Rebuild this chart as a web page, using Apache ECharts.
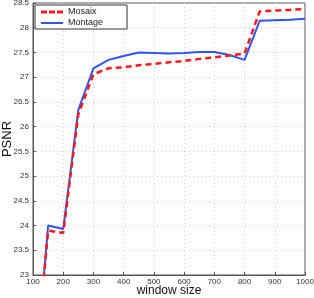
<!DOCTYPE html>
<html><head><meta charset="utf-8">
<script src="https://cdn.jsdelivr.net/npm/echarts@6/dist/echarts.min.js"></script>
<style>html,body{margin:0;padding:0;background:#fff}#c{width:314px;height:298px}</style>
</head><body><div id="c"></div>
<script>
const windowSizes = [100,150,200,250,300,350,400,450,500,550,600,650,700,750,800,850,900,950,1000];
const mosaix  = [20.5,23.9,23.85,26.25,27.06,27.18,27.2,27.24,27.27,27.3,27.33,27.37,27.4,27.44,27.48,28.33,28.35,28.36,28.38];
const montage = [20.4,24.0,23.93,26.34,27.18,27.35,27.43,27.5,27.49,27.48,27.49,27.51,27.51,27.45,27.35,28.14,28.15,28.16,28.18];
const yTickLabels = ['23','23.5','24','24.5','25','25.5','26','26.5','27','27.5','28','28.5'];

const font = 'Liberation Sans';
const chart = echarts.init(document.getElementById('c'));
const pairs = a => windowSizes.map((x,i)=>[x,a[i]]);
const axisCommon = {
  axisLine:{show:true,lineStyle:{color:'#555',width:1}},
  axisTick:{show:true,inside:true,length:3,lineStyle:{color:'#555'}},
};
chart.setOption({
  animation:false,
  grid:{left:33,right:9,top:3,bottom:23,containLabel:false,outerBoundsMode:'none',show:true,borderColor:'#555',borderWidth:1},
  legend:{
    left:35,top:5,orient:'vertical',itemGap:1,itemWidth:22,itemHeight:3,
    padding:[2,24,1,6],
    borderColor:'#333',borderWidth:1,backgroundColor:'#fff',
    textStyle:{fontFamily:font,fontSize:9,lineHeight:10,color:'#222'},
    data:[
      {name:'Mosaix',icon:'path://M0,0h6v3h-6z M8,0h6v3h-6z M16,0h6v3h-6z'},
      {name:'Montage',icon:'path://M0,0h22v2h-22z'}
    ]
  },
  xAxis:{
    type:'value',min:100,max:1000,interval:100,
    name:'window size',nameLocation:'middle',nameGap:10,nameMoveOverlap:false,
    nameTextStyle:{fontFamily:font,fontSize:12,color:'#111'},
    axisLabel:{fontFamily:font,fontSize:8,color:'#333',margin:3,formatter:v=>String(v)},
    splitLine:{show:true,lineStyle:{color:'#ccc',type:[1,3]}},
    ...axisCommon
  },
  yAxis:{
    type:'value',min:23,max:28.5,interval:0.5,
    name:'PSNR',nameLocation:'middle',nameGap:19,nameMoveOverlap:false,
    nameTextStyle:{fontFamily:font,fontSize:13,color:'#111'},
    axisLabel:{fontFamily:font,fontSize:8,color:'#333',margin:4,showMinLabel:true,showMaxLabel:true,hideOverlap:false,
      formatter:v=>yTickLabels[Math.round((v-23)*2)]},
    splitLine:{show:true,lineStyle:{color:'#ccc',type:[1,3]}},
    ...axisCommon
  },
  series:[{
    name:'Mosaix',type:'line',data:pairs(mosaix),symbol:'none',clip:true,
    lineStyle:{color:'#ff1a1a',width:2.5,type:[6,4]},itemStyle:{color:'#ff1a1a'},z:3
  },{
    name:'Montage',type:'line',data:pairs(montage),symbol:'none',clip:true,
    lineStyle:{color:'#2f55f0',width:2},itemStyle:{color:'#2f55f0'},z:2
  }]
});
</script></body></html>
